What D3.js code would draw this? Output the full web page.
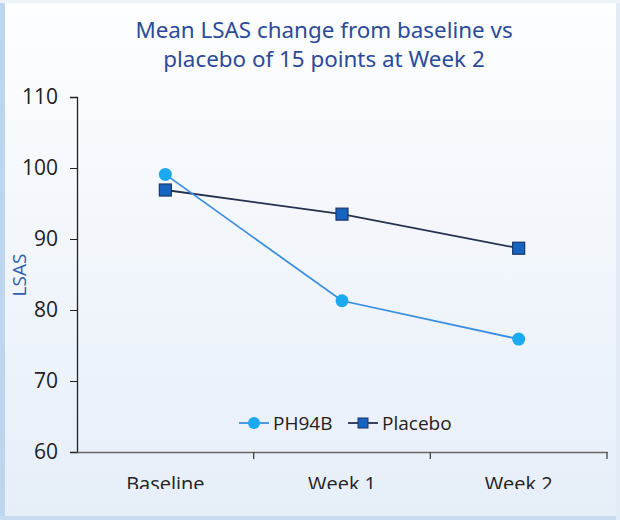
<!DOCTYPE html>
<html>
<head>
<meta charset="utf-8">
<script src="https://cdn.jsdelivr.net/npm/d3@7"></script>
<style>
  body { margin: 0; background: #ffffff; }
  svg { display: block; }
</style>
</head>
<body>
<div id="chart"></div>
<script>
// data
var timepoints = ["Baseline", "Week 1", "Week 2"];
var ph94b = [99.1, 81.3, 75.9];
var placebo = [96.9, 93.5, 88.7];
var yTicks = [60, 70, 80, 90, 100, 110];
var seriesNames = ["PH94B", "Placebo"];

let svgWidth = 620;
let svgHeight = 520;

let svg = d3.select("#chart")
  .append("svg")
  .attr("width", svgWidth)
  .attr("height", svgHeight);

// background gradient
let defs = svg.append("defs");
let grad = defs.append("linearGradient")
  .attr("id", "bg")
  .attr("x1", 0).attr("y1", 0).attr("x2", 0).attr("y2", 1);
grad.append("stop").attr("offset", "0%").attr("stop-color", "#fdfeff");
grad.append("stop").attr("offset", "100%").attr("stop-color", "#e6eef8");

defs.append("clipPath").attr("id", "clip")
  .append("rect").attr("x", 0).attr("y", 0).attr("width", svgWidth).attr("height", 489);

svg.append("rect")
  .attr("x", 0).attr("y", 0)
  .attr("width", svgWidth).attr("height", svgHeight)
  .attr("fill", "url(#bg)");

// frame edges
svg.append("rect").attr("x", 0).attr("y", 0).attr("width", 5).attr("height", svgHeight).attr("fill", "#bcd6ef");
svg.append("rect").attr("x", 0).attr("y", 516).attr("width", svgWidth).attr("height", 4).attr("fill", "#c9dbef");
svg.append("rect").attr("x", 616).attr("y", 0).attr("width", 4).attr("height", svgHeight).attr("fill", "#e3ecf6");
svg.append("rect").attr("x", 0).attr("y", 0).attr("width", svgWidth).attr("height", 3).attr("fill", "#eef3f9");

// scales
var xscale = d3.scaleBand()
  .domain(timepoints)
  .range([77, 607]);

var yscale = d3.scaleLinear()
  .domain([60, 110])
  .range([452, 97]);

// title
let title = svg.append("text")
  .attr("x", 324)
  .attr("y", 38)
  .attr("text-anchor", "middle")
  .attr("fill", "#2c4a9a")
  .attr("font-family", "'Noto Sans', sans-serif")
  .attr("font-size", 22.4);
title.append("tspan").attr("x", 324).text("Mean LSAS change from baseline vs");
title.append("tspan").attr("x", 324).attr("dy", 29).text("placebo of 15 points at Week 2");

// y axis
let yAxis = svg.append("g")
  .attr("transform", "translate(77,0)")
  .call(d3.axisLeft(yscale).tickValues(yTicks).tickSize(7).tickPadding(12))
  .attr("font-family", "'Open Sans', sans-serif")
  .attr("font-size", 21);
yAxis.select(".domain").attr("stroke", "#222").attr("stroke-width", 1.3);
yAxis.selectAll(".tick line").attr("stroke", "#222");
yAxis.selectAll("text").attr("fill", "#222");

svg.append("text")
  .attr("transform", "translate(26,275) rotate(-90)")
  .attr("text-anchor", "middle")
  .attr("fill", "#2f5fb0")
  .attr("font-family", "'Open Sans', sans-serif")
  .attr("font-size", 19)
  .text("LSAS");

// x axis (labels cut off at bottom like the original)
let xg = svg.append("g").attr("clip-path", "url(#clip)");
let xAxis = xg.append("g")
  .attr("transform", "translate(0,452)")
  .call(d3.axisBottom(xscale).tickSize(0).tickPadding(25))
  .attr("font-family", "'Open Sans', sans-serif")
  .attr("font-size", 20);
xAxis.select(".domain").attr("stroke", "#666").attr("stroke-width", 1.5);
xAxis.selectAll("text").attr("fill", "#222");

// band edge ticks
xAxis.selectAll(".edge")
  .data(xscale.domain().slice(1).concat(["end"]))
  .enter()
  .append("line")
  .attr("x1", (d) => d === "end" ? xscale.range()[1] : xscale(d))
  .attr("x2", (d) => d === "end" ? xscale.range()[1] : xscale(d))
  .attr("y1", 0)
  .attr("y2", 7)
  .attr("stroke", "#444")
  .attr("stroke-width", 1.3);

var cx = (d, i) => xscale(timepoints[i]) + xscale.bandwidth() / 2;

var line = d3.line()
  .x((d, i) => xscale(timepoints[i]) + xscale.bandwidth() / 2)
  .y((d) => yscale(d));

// placebo
svg.append("path")
  .datum(placebo)
  .attr("d", line)
  .attr("fill", "none")
  .attr("stroke", "#26304f")
  .attr("stroke-width", 1.8);

// PH94B
svg.append("path")
  .datum(ph94b)
  .attr("d", line)
  .attr("fill", "none")
  .attr("stroke", "#3b8fe0")
  .attr("stroke-width", 1.8);

svg.selectAll(".sq")
  .data(placebo)
  .enter()
  .append("rect")
  .attr("x", (d, i) => cx(d, i) - 6)
  .attr("y", (d) => yscale(d) - 6)
  .attr("width", 12)
  .attr("height", 12)
  .attr("fill", "#1565c0")
  .attr("stroke", "#1d3566")
  .attr("stroke-width", 1.2);

svg.selectAll(".dot")
  .data(ph94b)
  .enter()
  .append("circle")
  .attr("cx", cx)
  .attr("cy", (d) => yscale(d))
  .attr("r", 6.5)
  .attr("fill", "#1ca9ef");

// legend
let legend = svg.append("g");
let lx = [239, 348];
legend.selectAll("line")
  .data(seriesNames)
  .enter()
  .append("line")
  .attr("x1", (d, i) => lx[i])
  .attr("x2", (d, i) => lx[i] + 30)
  .attr("y1", 423)
  .attr("y2", 423)
  .attr("stroke", (d, i) => i === 0 ? "#3b8fe0" : "#26304f")
  .attr("stroke-width", 1.8);

legend.append("circle")
  .attr("cx", lx[0] + 15).attr("cy", 423).attr("r", 6)
  .attr("fill", "#1ca9ef");
legend.append("rect")
  .attr("x", lx[1] + 10).attr("y", 418).attr("width", 10).attr("height", 10)
  .attr("fill", "#1565c0").attr("stroke", "#1d3566");

legend.selectAll("text")
  .data(seriesNames)
  .enter()
  .append("text")
  .attr("x", (d, i) => lx[i] + 34)
  .attr("y", 430)
  .attr("fill", "#222")
  .attr("font-family", "'Open Sans', sans-serif")
  .attr("font-size", 19)
  .text((d) => d);
</script>
</body>
</html>
